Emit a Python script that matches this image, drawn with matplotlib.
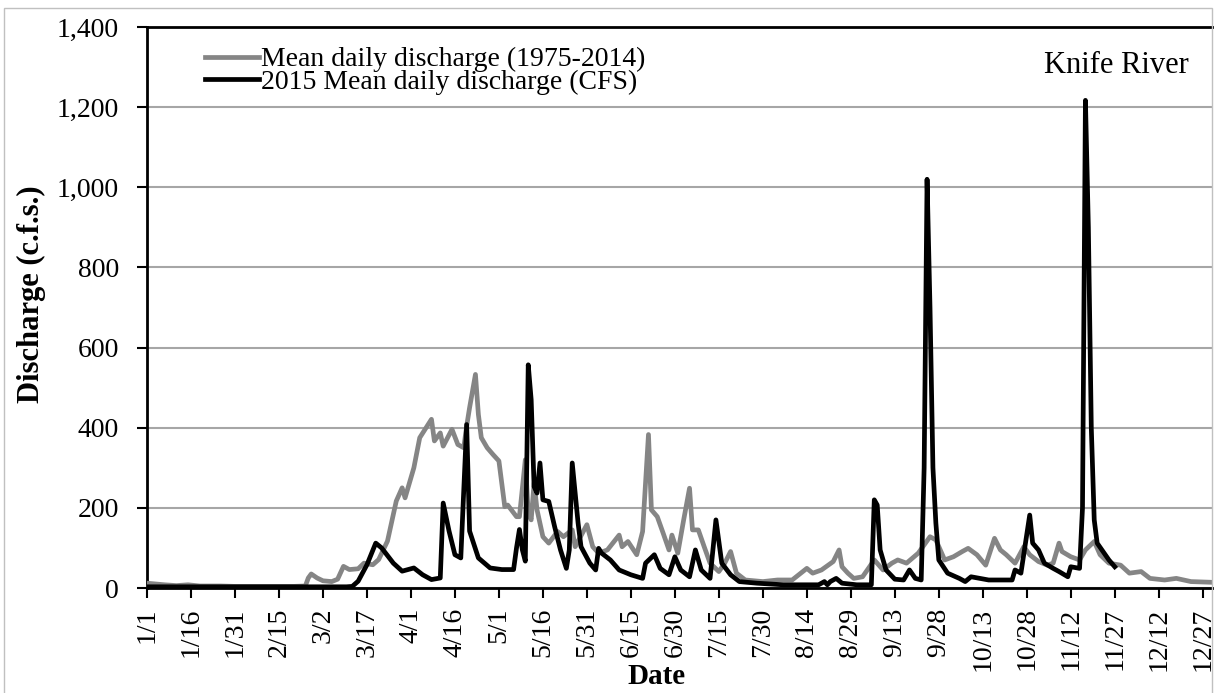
import matplotlib
matplotlib.use("Agg")
import matplotlib.pyplot as plt
from matplotlib.patches import Rectangle

plt.rcParams['font.family'] = ['Liberation Serif', 'DejaVu Serif']

# day of year (0 = 1/1) and discharge
mean_days = [0, 3, 6, 10, 14, 18, 25, 30, 40, 50, 54, 55, 56, 58, 60, 63, 65, 67, 69, 72,
             74, 77, 79, 82, 85, 87, 88, 90, 91, 93, 97, 98, 100, 101, 104, 106, 108, 109, 110, 112,
             113, 114, 116, 118, 120, 122, 123, 126, 127, 129, 130, 131, 132, 133, 135, 137, 140, 142, 145, 146,
             150, 152, 154, 157, 161, 162, 164, 167, 169, 171, 172, 174, 176, 178, 179, 181, 183, 185, 186, 188,
             190, 192, 195, 197, 199, 201, 204, 210, 215, 220, 225, 227, 230, 234, 236, 237, 239, 241, 244, 248,
             251, 254, 256, 259, 263, 267, 269, 272, 275, 278, 280, 283, 286, 289, 291, 293, 296, 299, 301, 304,
             307, 309, 311, 312, 315, 318, 320, 323, 325, 328, 332, 335, 339, 342, 347, 351, 356, 364]
mean_cfs = [12, 10, 8, 6, 8, 5, 5, 4, 4, 4, 5, 25, 35, 25, 18, 16, 22, 54, 46, 48,
            62, 58, 71, 117, 217, 250, 225, 275, 300, 375, 421, 367, 387, 354, 396, 358, 350, 404, 450, 533,
            433, 375, 350, 333, 317, 203, 207, 178, 178, 320, 187, 170, 262, 195, 128, 112, 141, 128, 145, 103,
            158, 103, 87, 95, 132, 103, 116, 83, 141, 383, 195, 178, 137, 95, 132, 87, 170, 249, 145, 145,
            103, 62, 41, 62, 91, 37, 20, 16, 20, 20, 49, 37, 45, 66, 95, 53, 37, 24, 28, 70,
            45, 62, 70, 62, 87, 128, 120, 70, 78, 91, 99, 83, 57, 124, 95, 83, 62, 103, 83, 66,
            57, 62, 112, 91, 78, 70, 95, 116, 83, 62, 57, 37, 41, 24, 20, 24, 16, 14]

y2015_days = [0, 30, 60, 68, 70, 72, 75, 78, 80, 84, 87, 91, 94, 97, 100, 101, 103, 105, 107, 109,
              110, 113, 117, 121, 125, 126, 127, 128, 129, 130, 131, 132, 133, 134, 135, 137, 139, 141, 143, 144,
              145, 147, 148, 151, 153, 154, 155, 158, 161, 165, 169, 170, 173, 175, 178, 180, 182, 185, 187, 189,
              192, 194, 196, 199, 202, 208, 217, 225, 229, 231, 232, 233, 235, 237, 242, 247, 248, 249, 250, 252,
              255, 258, 260, 262, 264, 265, 266, 267, 268, 269, 270, 273, 277, 279, 281, 284, 287, 295, 296, 298,
              301, 302, 304, 306, 309, 311, 314, 315, 318, 319, 320, 321, 322, 323, 324, 326, 328, 330]
y2015_cfs = [3, 3, 3, 3, 4, 17, 58, 112, 100, 62, 42, 50, 33, 21, 25, 212, 142, 83, 75, 408,
             142, 75, 50, 46, 46, 100, 146, 95, 67, 557, 470, 253, 237, 312, 220, 216, 153, 95, 49, 95,
             312, 162, 103, 62, 45, 99, 87, 70, 45, 33, 24, 62, 83, 49, 33, 78, 45, 28, 95, 45,
             24, 170, 62, 33, 16, 12, 8, 8, 8, 16, 8, 16, 24, 12, 8, 8, 220, 207, 95, 45,
             22, 20, 45, 24, 20, 300, 1020, 700, 300, 162, 70, 37, 24, 16, 28, 24, 20, 20, 45, 37,
             182, 112, 95, 62, 49, 41, 28, 53, 49, 200, 1217, 900, 400, 170, 112, 91, 70, 53]

tick_days = list(range(0, 361, 15))
tick_labels = ['1/1', '1/16', '1/31', '2/15', '3/2', '3/17', '4/1', '4/16', '5/1', '5/16',
               '5/31', '6/15', '6/30', '7/15', '7/30', '8/14', '8/29', '9/13', '9/28', '10/13',
               '10/28', '11/12', '11/27', '12/12', '12/27']

fig = plt.figure(figsize=(12.14, 6.93), dpi=100)
ax = fig.add_axes([147/1214, 1 - 588/693, 1066/1214, 561/693])

ax.plot(mean_days, mean_cfs, color='#858585', lw=3.4, label='Mean daily discharge (1975-2014)', zorder=3)
ax.plot(y2015_days, y2015_cfs, color='black', lw=3.4, label='2015 Mean daily discharge (CFS)', zorder=4)

ax.set_xlim(0, 363.5)
ax.set_ylim(0, 1400)
ax.set_yticks(range(0, 1401, 200))
ax.set_yticklabels(['{:,}'.format(v) for v in range(0, 1401, 200)])
ax.set_xticks(tick_days)
ax.set_xticklabels(tick_labels, rotation=90)
ax.tick_params(axis='both', labelsize=20, length=7, width=1.5, direction='out')
ax.tick_params(axis='y', pad=13)
ax.tick_params(axis='x', pad=7)
ax.yaxis.grid(True, color='#a6a6a6', lw=1.5)
ax.set_axisbelow(True)

for s in ['left', 'bottom', 'top']:
    ax.spines[s].set_linewidth(2)
    ax.spines[s].set_color('black')
ax.spines['right'].set_visible(False)

ax.set_ylabel('Discharge (c.f.s.)', fontsize=22, fontweight='bold')
ax.yaxis.set_label_coords(-0.108, 0.524)
ax.yaxis.label.set_verticalalignment('center')
ax.set_xlabel('Date', fontsize=21, fontweight='bold')
ax.xaxis.set_label_coords(0.478, -0.134)

ax.text(0.909, 0.932, 'Knife River', transform=ax.transAxes, fontsize=22, ha='center', va='center')

leg = ax.legend(loc='upper left', bbox_to_anchor=(58/1066, 1 - 20/561), frameon=False,
                fontsize=20, handlelength=1.95, handletextpad=0.05, labelspacing=-0.1,
                borderaxespad=0, borderpad=0)

fig.patches.append(Rectangle((4/1214, -0.01), 1208/1214, 1 - 8/693 + 0.01, transform=fig.transFigure,
                             fill=False, edgecolor='#c0c0c0', lw=1))

plt.savefig('out.png', dpi=100)
